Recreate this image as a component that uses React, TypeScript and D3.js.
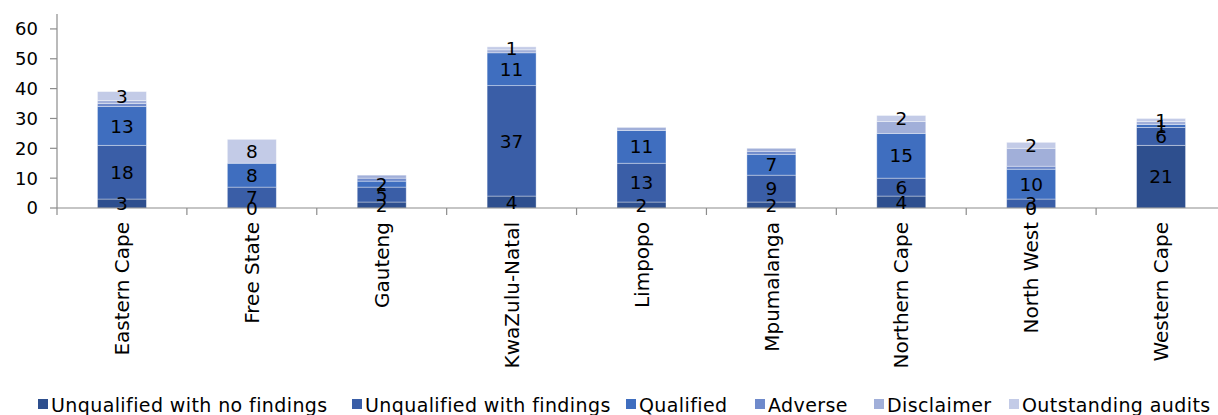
import React from "react";
import * as d3 from "d3";

const provinces = [
  "Eastern Cape",
  "Free State",
  "Gauteng",
  "KwaZulu-Natal",
  "Limpopo",
  "Mpumalanga",
  "Northern Cape",
  "North West",
  "Western Cape",
];

const seriesNames = [
  "Unqualified with no findings",
  "Unqualified with findings",
  "Qualified",
  "Adverse",
  "Disclaimer",
  "Outstanding audits",
];

const unqualifiedNoFindings = [3, 0, 2, 4, 2, 2, 4, 0, 21];
const unqualifiedWithFindings = [18, 7, 5, 37, 13, 9, 6, 3, 6];
const qualified = [13, 8, 2, 11, 11, 7, 15, 10, 1];
const adverse = [1, null, 1, null, null, 1, null, 1, null];
const disclaimer = [1, null, 1, 1, 1, 1, 4, 6, 1];
const outstanding = [3, 8, null, 1, null, null, 2, 2, 1];

// which series get visible data labels
const labelledSeries = [true, true, true, false, false, true];

const yTicks = [0, 10, 20, 30, 40, 50, 60];

const colors = ["#2E4F8E", "#3A5EA7", "#3F6EBF", "#6F8ACB", "#A1AFD9", "#C3CBE7"];

// legend layout (left edge of each legend swatch)
const legendX = [38, 352, 626, 755, 874, 1009];

const W = 1218;
const H = 415;
const FONT = "'DejaVu Sans', sans-serif";

export default function App() {
  const series = [unqualifiedNoFindings, unqualifiedWithFindings, qualified, adverse, disclaimer, outstanding];

  const x = d3.scaleBand<string>().domain(provinces).range([57, 1226]).paddingInner(0.623).paddingOuter(0.3115);
  const y = d3.scaleLinear().domain([0, 65]).range([208, 14]);

  const rows = provinces.map((p, i) => {
    const r: any = { province: p };
    seriesNames.forEach((s, j) => (r[s] = series[j][i] ?? 0));
    return r;
  });
  const stacked = d3.stack<any>().keys(seriesNames)(rows);

  const step = x.step();
  const boundaries = provinces.map((p) => (x(p) as number) - (step - x.bandwidth()) / 2).concat([1226]);

  return (
    <svg width={W} height={H} style={{ position: "absolute", left: 0, top: 0, background: "#fff" }} fontFamily={FONT}>
      {/* bars */}
      {stacked.map((layer, j) => (
        <g key={seriesNames[j]} fill={colors[j]}>
          {layer.map((d, i) => {
            const v = series[j][i];
            if (v === null || v === 0) return null;
            return (
              <rect
                key={i}
                x={x(provinces[i])}
                width={x.bandwidth()}
                y={y(d[1])}
                height={y(d[0]) - y(d[1])}
                stroke="#ffffff"
                strokeOpacity={0.45}
                strokeWidth={0.8}
              />
            );
          })}
        </g>
      ))}

      {/* axes */}
      <line x1={57} x2={57} y1={y(65)} y2={y(0)} stroke="#8c8c8c" strokeWidth={1.2} />
      <line x1={57} x2={W} y1={y(0)} y2={y(0)} stroke="#8c8c8c" strokeWidth={1.2} />
      {yTicks.map((t) => (
        <g key={t}>
          <line x1={50} x2={57} y1={y(t)} y2={y(t)} stroke="#8c8c8c" strokeWidth={1.2} />
          <text x={38} y={y(t)} dy="0.36em" textAnchor="end" fontSize={18} fill="#000">
            {t}
          </text>
        </g>
      ))}
      {boundaries.map((bx, i) => (
        <line key={i} x1={bx} x2={bx} y1={y(0)} y2={y(0) + 7} stroke="#8c8c8c" strokeWidth={1.2} />
      ))}
      {provinces.map((p) => {
        const cxp = (x(p) as number) + x.bandwidth() / 2;
        return (
          <text
            key={p}
            transform={`translate(${cxp},222) rotate(-90)`}
            dy="0.36em"
            textAnchor="end"
            fontSize={20}
            fill="#000"
          >
            {p}
          </text>
        );
      })}

      {/* data labels */}
      {stacked.map((layer, j) =>
        labelledSeries[j]
          ? layer.map((d, i) => {
              const v = series[j][i];
              if (v === null) return null;
              return (
                <text
                  key={`${j}-${i}`}
                  x={(x(provinces[i]) as number) + x.bandwidth() / 2}
                  y={y((d[0] + d[1]) / 2)}
                  dy="0.36em"
                  textAnchor="middle"
                  fontSize={18.5}
                  fill="#000"
                >
                  {v}
                </text>
              );
            })
          : null
      )}

      {/* legend */}
      {seriesNames.map((s, i) => (
        <g key={s}>
          <rect x={legendX[i]} y={399} width={10} height={10} fill={colors[i]} />
          <text x={legendX[i] + 13} y={405} dy="0.36em" fontSize={19} letterSpacing={0.4} fill="#000">
            {s}
          </text>
        </g>
      ))}
    </svg>
  );
}
